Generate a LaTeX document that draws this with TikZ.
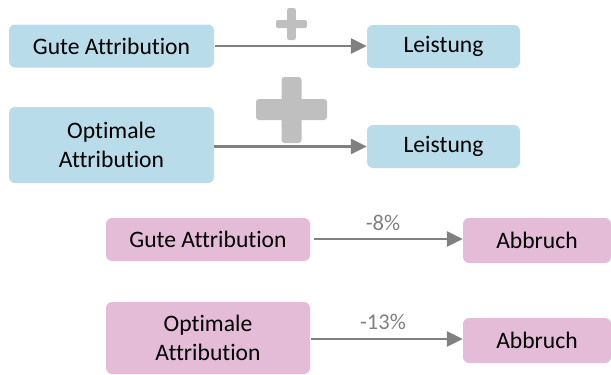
\documentclass[tikz,border=0pt]{standalone}
\usepackage{fontspec}
\setmainfont[Ligatures=NoCommon]{Carlito}
\usetikzlibrary{arrows.meta}
\definecolor{boxblue}{HTML}{B9DCEA}
\definecolor{boxpink}{HTML}{E5BCD8}
\definecolor{arrgray}{HTML}{808080}
\definecolor{plusgray}{HTML}{BFBFBF}
\tikzset{
  basebox/.style={rounded corners=6pt, inner sep=0pt, align=center,
    font=\fontsize{23.6}{28.5}\selectfont, text=black},
  bluebox/.style={basebox, fill=boxblue},
  pinkbox/.style={basebox, fill=boxpink},
  arr/.style={draw=arrgray, line width=2.6pt,
    -{Triangle[length=16pt,width=15pt]}},
  lbl/.style={text=arrgray, font=\fontsize{22.5}{26}\selectfont, inner sep=0pt},
  plusfill/.style={fill=plusgray, rounded corners=2pt}
}
\begin{document}
\begin{tikzpicture}[x=1pt,y=-1pt]
\useasboundingbox (0,0) rectangle (611,375);
% blue boxes
\node[bluebox, minimum width=205pt, minimum height=43pt] (g1) at (111.5,46) {Gute Attribution};
\node[bluebox, minimum width=153pt, minimum height=43pt] (l1) at (443.5,46.5) {Leistung};
\node[bluebox, minimum width=205pt, minimum height=76pt] (o1) at (111.5,145) {Optimale\\Attribution};
\node[bluebox, minimum width=153pt, minimum height=43pt] (l2) at (443.5,146.5) {Leistung};
% pink boxes
\node[pinkbox, minimum width=204pt, minimum height=43pt] (g2) at (208,239.5) {Gute Attribution};
\node[pinkbox, minimum width=148pt, minimum height=45pt] (a1) at (537,240.5) {Abbruch};
\node[pinkbox, minimum width=204pt, minimum height=72pt] (o2) at (208,338) {Optimale\\Attribution};
\node[pinkbox, minimum width=148pt, minimum height=45pt] (a2) at (537,340.5) {Abbruch};
% arrows
\draw[arr] (g1.east) ++(1,0) coordinate (s1) -- (l1.west |- s1);
\draw[arr] (o1.east |- l2.west) -- (l2.west);
\draw[arr] ([xshift=4pt]g2.east |- 0,239) coordinate (s3) -- (a1.west |- s3);
\draw[arr] ([xshift=1pt]o2.east |- 0,339) coordinate (s4) -- (a2.west |- s4);
% labels
\node[lbl] (p1) at (383,223) {-8\%};
\node[lbl] (p2) at (383,322) {-13\%};
% small plus
\fill[plusfill] (287.2,8) rectangle (295.8,40);
\fill[plusfill] (276,20) rectangle (307,28);
% big plus
\fill[plusfill, rounded corners=3pt] (281.5,77) rectangle (301.5,143);
\fill[plusfill, rounded corners=3pt] (256,99) rectangle (327,120);
\end{tikzpicture}
\end{document}
